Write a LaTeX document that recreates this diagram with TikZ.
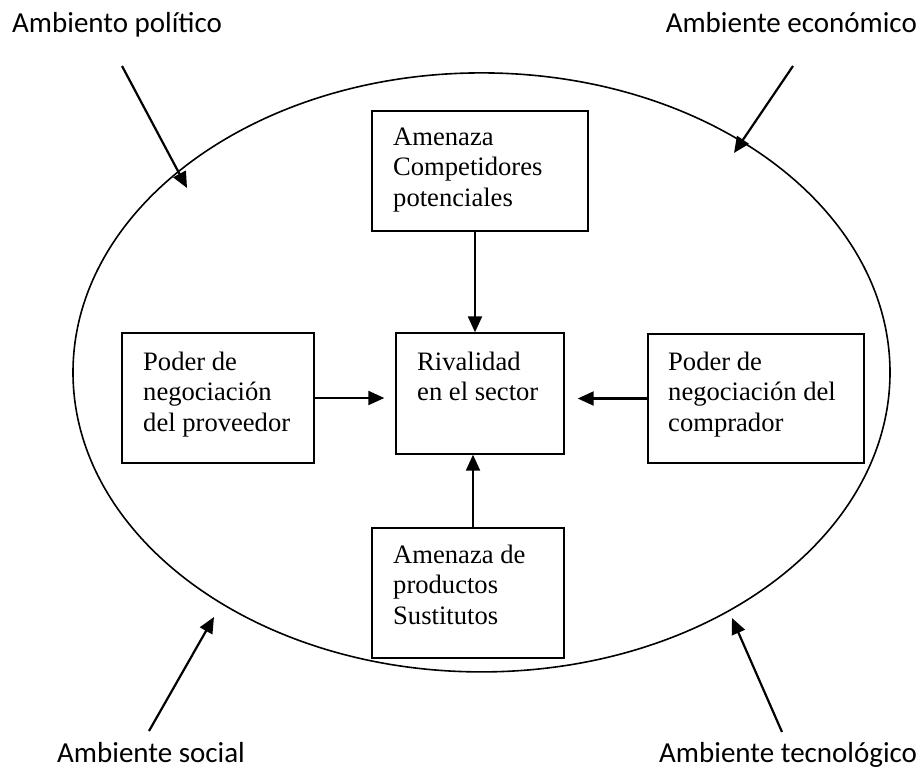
\documentclass[tikz,border=0pt]{standalone}
\usepackage{fontspec}
\setmainfont{Liberation Serif}
\newfontfamily\labelfont{Carlito}
\usetikzlibrary{arrows.meta,shapes.geometric}
\begin{document}
\begin{tikzpicture}[x=1pt,y=-1pt,
  boxnode/.style={draw, line width=1.4pt, inner sep=0pt, rectangle},
  boxtext/.style={inner sep=0pt, anchor=base west, font=\fontsize{26.6}{30.8}\selectfont},
  envlabel/.style={inner sep=0pt, font=\labelfont\fontsize{29}{34}\selectfont},
  arr/.style={line width=2.2pt, -{Triangle[length=16pt,width=14pt]}}
]
\useasboundingbox (0,0) rectangle (921,771);
\node[draw, ellipse, line width=1.6pt, minimum width=817pt, minimum height=599pt, inner sep=0pt] (env) at (481.5,372.4) {};

% boxes
\node[boxnode, minimum width=216pt, minimum height=120pt] (top) at (480,171) {};
\node[boxnode, minimum width=192pt, minimum height=130pt] (left) at (218,398) {};
\node[boxnode, minimum width=168pt, minimum height=121pt] (ctr) at (480,393.5) {};
\node[boxnode, minimum width=216pt, minimum height=129pt] (right) at (756,398.5) {};
\node[boxnode, minimum width=192pt, minimum height=130pt] (bot) at (468,593) {};

% box texts
\node[boxtext] (topT) at (393,145) {\parbox[t]{250pt}{\raggedright Amenaza\\Competidores\\potenciales}};
\node[boxtext] (leftT) at (143,370) {\parbox[t]{250pt}{\raggedright Poder de\\negociación\\del proveedor}};
\node[boxtext] (ctrT) at (417,370) {\parbox[t]{250pt}{\raggedright Rivalidad\\en el sector}};
\node[boxtext] (rightT) at (668,370) {\parbox[t]{250pt}{\raggedright Poder de\\negociación del\\comprador}};
\node[boxtext] (botT) at (393,563) {\parbox[t]{250pt}{\raggedright Amenaza de\\productos\\Sustitutos}};

% inner arrows
\draw[arr] ([xshift=-5pt]top.south) -- ([xshift=-5pt]top.south |- ctr.north);
\draw[arr] ([xshift=5pt]bot.north) -- ([xshift=5pt]bot.north |- ctr.south);
\draw[arr] (left.east) -- ([xshift=-11pt]left.east -| ctr.west);
\draw[arr] (right.west) -- ([xshift=13pt]right.west -| ctr.east);

% environment labels
\node[envlabel, anchor=base west] (pol) at (12,32) {Ambiento político};
\node[envlabel, anchor=base east] (eco) at (917,32) {Ambiente económico};
\node[envlabel, anchor=base west] (soc) at (57,762) {Ambiente social};
\node[envlabel, anchor=base west] (tec) at (659,762) {Ambiente tecnológico};

% environment arrows
\coordinate (polS) at (122,66);  \coordinate (polE) at (187,188);
\coordinate (ecoS) at (793,66);  \coordinate (ecoE) at (734,153);
\coordinate (socS) at (149,731); \coordinate (socE) at (214,617);
\coordinate (tecS) at (782,732); \coordinate (tecE) at (732,618);
\draw[arr] (polS) -- (polE);
\draw[arr] (ecoS) -- (ecoE);
\draw[arr] (socS) -- (socE);
\draw[arr] (tecS) -- (tecE);
\end{tikzpicture}
\end{document}
